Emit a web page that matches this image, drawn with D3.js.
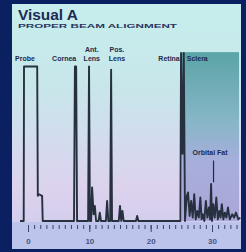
<!DOCTYPE html>
<html>
<head>
<meta charset="utf-8">
<script src="https://cdn.jsdelivr.net/npm/d3@7"></script>
<style>
  html, body { margin: 0; padding: 0; background: #0a2060; }
  svg { display: block; }
</style>
</head>
<body>
<div class="chart"></div>
<script>
const svgWidth = 246, svgHeight = 252;

// echo trace, distance (x) and amplitude (y)
const traceX = [-1.3, -0.7, -0.65, 1.5, 1.6, 1.7, 2.3, 2.4,
  7.5, 7.65, 7.85, 8.0, 9.8, 9.95, 10.1, 10.3, 10.45, 10.7, 10.9, 11.1, 11.5, 11.7, 11.9,
  12.7, 12.9, 13.1, 13.4, 13.55, 13.7, 14.8, 15.0, 15.2, 15.4, 15.6, 17.6, 17.8, 18.0,
  24.85, 24.95, 25.2, 25.4, 25.6,
  25.9, 26.1, 26.35, 26.6, 26.85, 27.1, 27.35, 27.6, 27.85, 28.1, 28.3, 28.5, 28.75,
  29.0, 29.25, 29.5, 29.7, 29.85, 30.0, 30.2, 30.45, 30.7, 30.95, 31.2, 31.4, 31.6,
  31.85, 32.1, 32.35, 32.6, 32.9, 33.3, 33.6, 33.9, 34.3, 34.6];
const traceY = [0, 0, 92, 92, 15, 16, 15, 0,
  0, 92, 92, 0, 0, 92, 0, 0, 20, 4, 9, 0, 0, 5, 0,
  0, 12, 0, 0, 90, 0, 0, 9, 0, 6, 0, 0, 3, 0,
  0, 100, 40, 100, 0,
  15, 17, 3, 12, 2, 16, 1, 6, 2, 14, 1, 4, 0,
  12, 2, 8, 1, 22, 0, 10, 2, 14, 1, 6, 2, 10,
  1, 5, 2, 8, 1, 4, 2, 5, 1, 2];

const peakNames = [["Probe"], ["Cornea"], ["Ant.", "Lens"], ["Pos.", "Lens"], ["Retina"], ["Sclera"]];
const tickValues = [0, 10, 20, 30];
const orbitalPeak = 29.85;

var x = d3.scaleLinear().domain([0, 30]).range([28, 212]);
var y = d3.scaleLinear().domain([0, 100]).range([221, 53]);

var svg = d3.select(".chart").append("svg").attr("width", svgWidth).attr("height", svgHeight);
var defs = svg.append("defs");

var panelGrad = defs.append("linearGradient").attr("id", "panel")
    .attr("x1", 0).attr("y1", 0).attr("x2", 0).attr("y2", 1);
[["0", "#c6eeec"], ["0.35", "#c8e6ea"], ["0.55", "#d2dcee"], ["0.75", "#dcd2ee"], ["1", "#cdcaec"]]
    .forEach(function (s) { panelGrad.append("stop").attr("offset", s[0]).attr("stop-color", s[1]); });

var scleraGrad = defs.append("linearGradient").attr("id", "sclera")
    .attr("x1", 0).attr("y1", 0).attr("x2", 0).attr("y2", 1);
[["0", "#5aa4a6"], ["0.4", "#86b6c6"], ["0.65", "#a8aedc"], ["1", "#aaa6d8"]]
    .forEach(function (s) { scleraGrad.append("stop").attr("offset", s[0]).attr("stop-color", s[1]); });

// panel
svg.append("rect").attr("x", 12).attr("y", 4).attr("width", 229).attr("height", 245).attr("fill", "url(#panel)");
svg.append("rect").attr("x", 12).attr("y", 222).attr("width", 229).attr("height", 27).attr("fill", "#bcc4ec");

// sclera shading
svg.append("rect")
    .attr("x", x(25.1)).attr("y", y(100.5))
    .attr("width", x(34.4) - x(25.1)).attr("height", y(0) - y(100.5))
    .attr("fill", "url(#sclera)");

// title
svg.append("text").text("Visual A")
    .attr("x", 18).attr("y", 20)
    .attr("textLength", 60).attr("lengthAdjust", "spacingAndGlyphs")
    .style("font-family", "Liberation Sans").style("font-weight", "bold")
    .style("font-size", "15px").style("fill", "#1c2a55");
svg.append("text").text("PROPER BEAM ALIGNMENT")
    .attr("x", 18).attr("y", 28)
    .attr("textLength", 159).attr("lengthAdjust", "spacingAndGlyphs")
    .style("font-family", "Liberation Sans").style("font-weight", "bold")
    .style("font-size", "5.5px").style("fill", "#2a3560");

// peak labels (label centre in distance units)
var labelAt = [-0.5, 5.9, 10.4, 14.5, 23.0, 27.6];
peakNames.forEach(function (lines, i) {
    lines.forEach(function (line, j) {
        svg.append("text").text(line)
            .attr("x", x(labelAt[i]))
            .attr("y", 61 - (lines.length - 1 - j) * 9)
            .style("text-anchor", "middle")
            .style("font-family", "Liberation Sans Narrow, Liberation Sans")
            .style("font-weight", "bold")
            .style("font-size", "7px").style("fill", "#1e2a4c");
    });
});

// trace
var line = d3.line().x(function (d) { return x(d[0]); }).y(function (d) { return y(d[1]); });
var points = traceX.map(function (v, i) { return [v, traceY[i]]; });
svg.append("path").datum(points)
    .attr("d", line)
    .attr("fill", "none")
    .attr("stroke", "#27303e")
    .attr("stroke-width", 1.9)
    .attr("stroke-linejoin", "round");

// orbital fat annotation
svg.append("text").text("Orbital Fat")
    .attr("x", x(orbitalPeak) - 1).attr("y", y(39))
    .style("text-anchor", "middle")
    .style("font-family", "Liberation Sans Narrow, Liberation Sans")
    .style("font-weight", "bold")
    .style("font-size", "7px").style("fill", "#1e2a4c");
svg.append("line")
    .attr("x1", x(orbitalPeak + 0.4)).attr("x2", x(orbitalPeak + 0.4))
    .attr("y1", y(36)).attr("y2", y(23))
    .attr("stroke", "#1e2a4c").attr("stroke-width", 1.2);

// axis
var axis = d3.axisBottom(x).tickValues(tickValues).tickSize(7).tickFormat(d3.format("d"));
var axisG = svg.append("g").attr("transform", "translate(0,225)").call(axis);
axisG.select(".domain").remove();
axisG.selectAll(".tick line").attr("stroke", "#3a4470");
axisG.selectAll(".tick text")
    .attr("y", 13)
    .style("font-family", "Liberation Sans").style("font-weight", "bold")
    .style("font-size", "8px").style("fill", "#4a5480");

var minor = d3.axisBottom(x).tickValues(d3.range(0, 35, 1)).tickSize(4).tickFormat("");
var minorG = svg.append("g").attr("transform", "translate(0,225)").call(minor);
minorG.select(".domain").remove();
minorG.selectAll(".tick line").attr("stroke", "#3a4470");
</script>
</body>
</html>
